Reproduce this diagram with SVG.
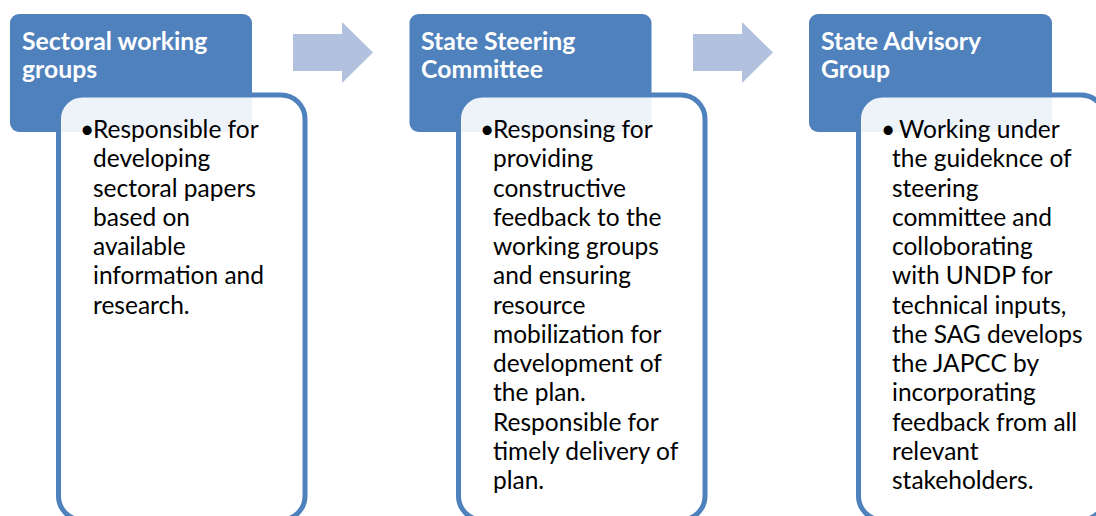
<svg xmlns="http://www.w3.org/2000/svg" width="1096" height="516" viewBox="0 0 1096 516">
<style>
.hdr{fill:#4F81BD}
.body{fill:#FFFFFF;fill-opacity:0.9;stroke:#4F81BD;stroke-width:5}
.arrow{fill:#B2C1DD}
.ht{font-family:Lato,"Liberation Sans",sans-serif;font-weight:bold;font-size:24.8px;fill:#FFFFFF}
.bt{font-family:Lato,"Liberation Sans",sans-serif;font-size:24.5px;fill:#000000}
</style>
<rect width="1096" height="516" fill="#FFFFFF"/>
<g id="connectors">
<path class="arrow" d="M293,34 H342 V22 L373,52.5 L342,83 V71 H293 Z"/>
<path class="arrow" d="M693,34 H742 V22 L773,52.5 L742,83 V71 H693 Z"/>
</g>
<g id="node1">
<rect class="hdr" x="10" y="14" width="242" height="118" rx="9"/>
<text class="ht"><tspan x="22" y="49.5">Sectoral working</tspan><tspan x="22" y="77.5">groups</tspan></text>
<rect class="body" x="58.5" y="95" width="246.5" height="425" rx="24"/>
<text class="bt"><tspan x="80" y="138">•</tspan><tspan x="93" y="138">Responsible for</tspan><tspan x="93" y="167.25">developing</tspan><tspan x="93" y="196.5">sectoral papers</tspan><tspan x="93" y="225.75">based on</tspan><tspan x="93" y="255">available</tspan><tspan x="93" y="284.25">information and</tspan><tspan x="93" y="313.5">research.</tspan></text>
</g>
<g id="node2">
<rect class="hdr" x="409.5" y="14" width="242" height="118" rx="9"/>
<text class="ht"><tspan x="421" y="49.5">State Steering</tspan><tspan x="421" y="77.5">Committee</tspan></text>
<rect class="body" x="458.5" y="95" width="246.5" height="425" rx="24"/>
<text class="bt"><tspan x="480" y="138">•</tspan><tspan x="493" y="138">Responsing for</tspan><tspan x="493" y="167.25">providing</tspan><tspan x="493" y="196.5">constructive</tspan><tspan x="493" y="225.75">feedback to the</tspan><tspan x="493" y="255">working groups</tspan><tspan x="493" y="284.25">and ensuring</tspan><tspan x="493" y="313.5">resource</tspan><tspan x="493" y="342.75">mobilization for</tspan><tspan x="493" y="372">development of</tspan><tspan x="493" y="401.25">the plan.</tspan><tspan x="493" y="430.5">Responsible for</tspan><tspan x="493" y="459.75">timely delivery of</tspan><tspan x="493" y="489">plan.</tspan></text>
</g>
<g id="node3">
<rect class="hdr" x="809" y="14" width="243" height="118" rx="9"/>
<text class="ht"><tspan x="821" y="49.5">State Advisory</tspan><tspan x="821" y="77.5">Group</tspan></text>
<rect class="body" x="858.5" y="95" width="246.5" height="425" rx="24"/>
<text class="bt"><tspan x="881" y="138">•</tspan><tspan x="899" y="138">Working under</tspan><tspan x="892" y="167.25">the guideknce of</tspan><tspan x="892" y="196.5">steering</tspan><tspan x="892" y="225.75">committee and</tspan><tspan x="892" y="255">colloborating</tspan><tspan x="892" y="284.25">with UNDP for</tspan><tspan x="892" y="313.5">technical inputs,</tspan><tspan x="892" y="342.75">the SAG develops</tspan><tspan x="892" y="372">the JAPCC by</tspan><tspan x="892" y="401.25">incorporating</tspan><tspan x="892" y="430.5">feedback from all</tspan><tspan x="892" y="459.75">relevant</tspan><tspan x="892" y="489">stakeholders.</tspan></text>
</g>
</svg>
